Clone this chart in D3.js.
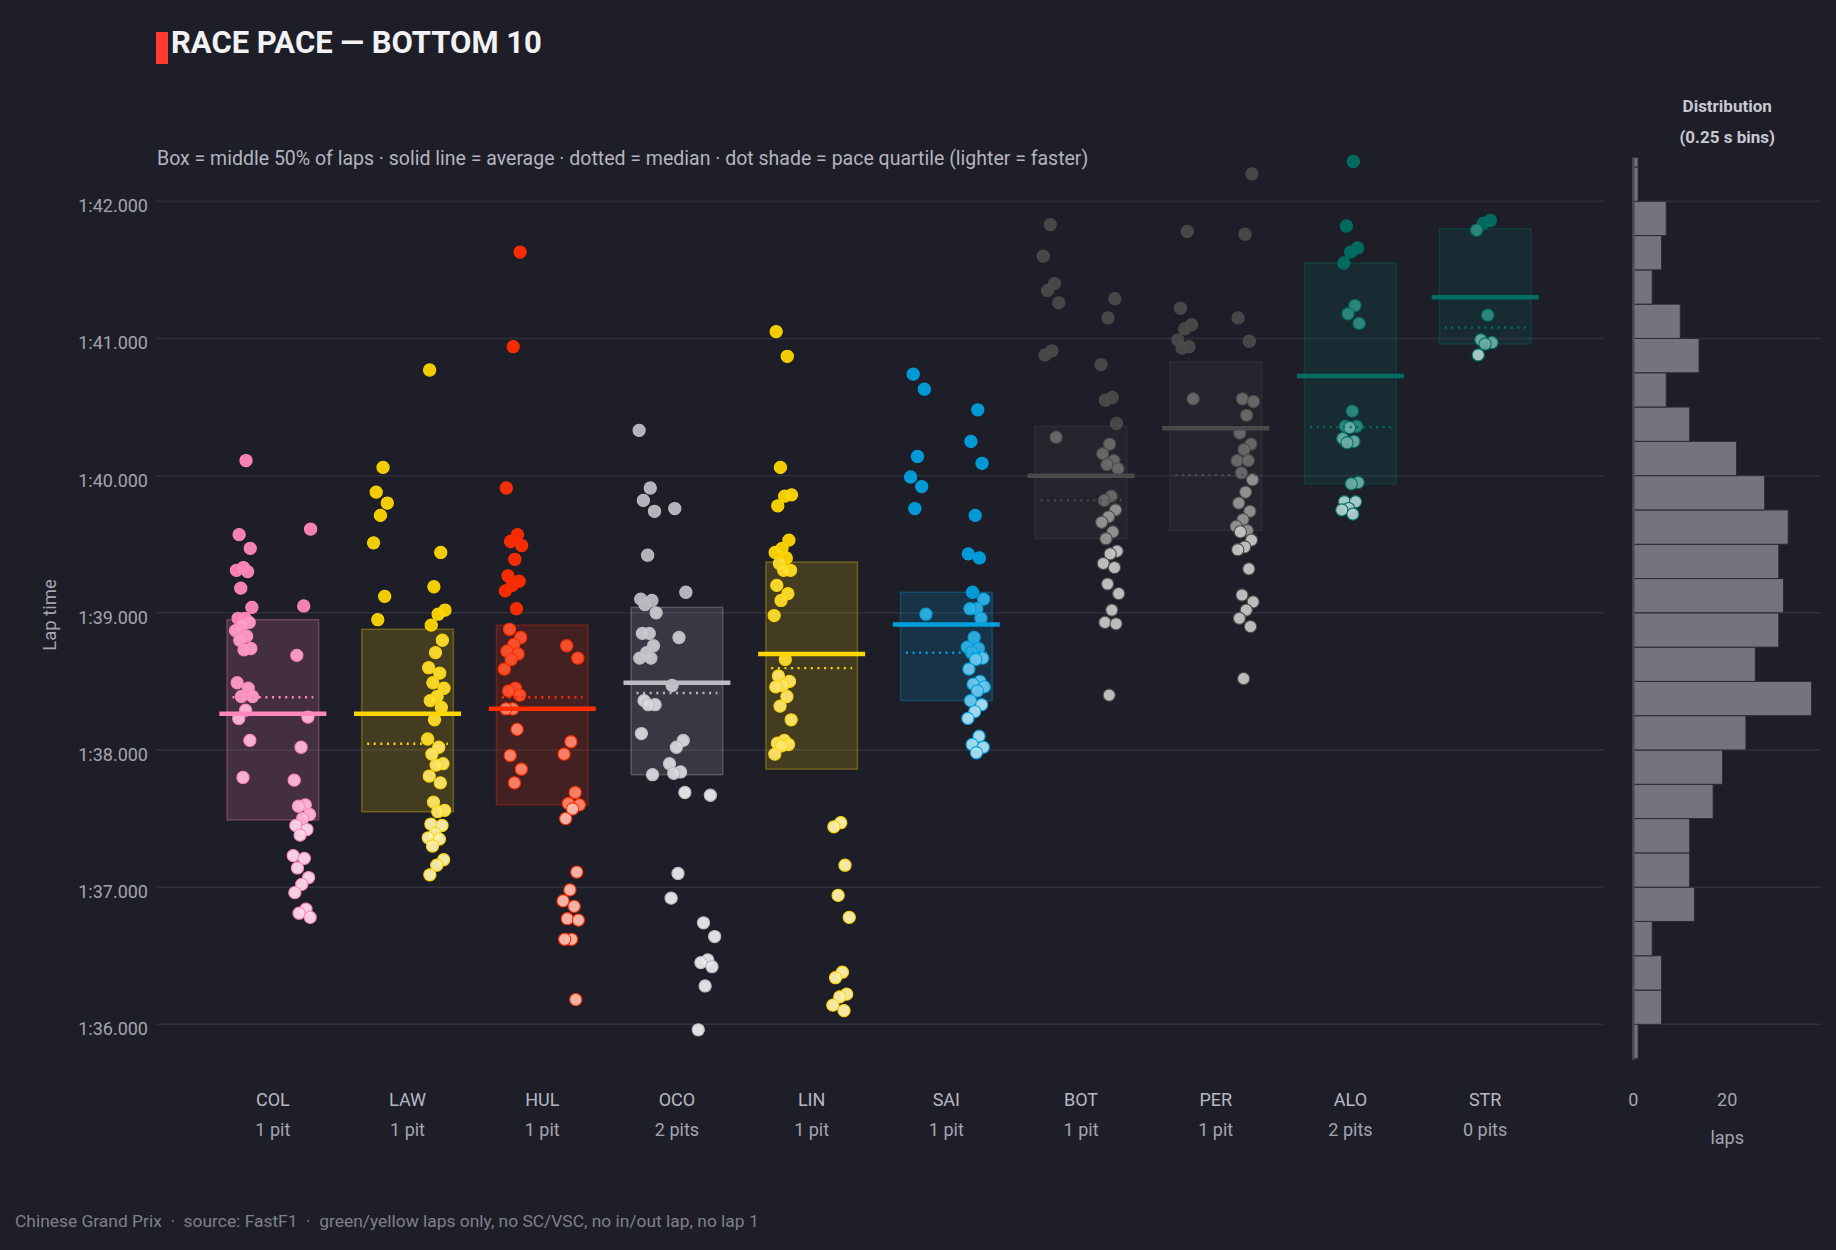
<!DOCTYPE html>
<html><head><meta charset="utf-8">
<script src="https://cdn.jsdelivr.net/npm/d3@7"></script>
<style>
html,body{margin:0;padding:0;background:#1e1e28;}
svg{display:block;}
text{font-family:Roboto,"Noto Sans",sans-serif;}
</style></head><body>
<svg id="chart" width="1836" height="1250"></svg>
<script>
// ---------- data ----------
const drivers   = ["COL","LAW","HUL","OCO","LIN","SAI","BOT","PER","ALO","STR"];
const pitStops  = [1,1,1,2,1,1,1,1,2,0];
const boxQ1     = [97.49, 97.55, 97.60, 97.82, 97.86, 98.36, 99.54, 99.60, 99.94, 100.96];
const boxQ3     = [98.95, 98.88, 98.91, 99.04, 99.37, 99.15, 100.36, 100.83, 101.55, 101.80];
const lapMean   = [98.265, 98.264, 98.30, 98.49, 98.70, 98.915, 100.0, 100.345, 100.727, 101.30];
const lapMedian = [98.385, 98.045, 98.385, 98.415, 98.597, 98.709, 99.82, 100.005, 100.354, 101.08];

// lap times (s) per stint
const lapsCOL = [
  [100.11,99.57,99.47,99.33,99.31,99.30,99.18,99.04,98.96,98.96,98.93,98.91,98.87,98.83,98.80,98.74,98.73,98.49,98.45,98.39,98.39,98.29,98.23,98.07,97.80],
  [99.61,99.05,98.69,98.24,98.02,97.78,97.60,97.59,97.53,97.50,97.45,97.42,97.38,97.23,97.21,97.14,97.07,97.02,96.96,96.84,96.81,96.78]
];
const lapsLAW = [
  [100.06,99.88,99.80,99.71,99.51,99.12,98.95],
  [100.77,99.44,99.19,99.02,98.99,98.91,98.80,98.71,98.60,98.56,98.49,98.45,98.39,98.36,98.31,98.22,98.08,98.02,97.97,97.90,97.89,97.81,97.76,97.62,97.56,97.55,97.46,97.45,97.39,97.36,97.35,97.30,97.20,97.16,97.09]
];
const lapsHUL = [
  [101.63,100.94,99.91,99.57,99.52,99.49,99.39,99.27,99.23,99.20,99.16,99.03,98.88,98.82,98.77,98.72,98.70,98.66,98.59,98.45,98.43,98.40,98.30,98.30,98.15,97.96,97.86,97.76],
  [98.76,98.67,98.06,97.97,97.69,97.61,97.60,97.57,97.50,97.11,96.98,96.90,96.86,96.77,96.76,96.62,96.62,96.18]
];
const lapsOCO = [
  [100.33,99.91,99.82,99.74,99.42,99.10,99.09,99.06,99.00,98.85,98.85,98.76,98.71,98.67,98.67,98.36,98.33,98.33,98.12,97.82],
  [99.76,99.15,98.82,98.47,98.07,98.02,97.90,97.84,97.83,97.69,97.10,96.92],
  [97.67,96.74,96.64,96.47,96.45,96.42,96.28,95.96]
];
const lapsLIN = [
  [101.05,100.87,100.06,99.86,99.85,99.78,99.53,99.47,99.44,99.40,99.36,99.31,99.31,99.20,99.14,99.09,98.98,98.66,98.54,98.50,98.47,98.46,98.39,98.32,98.22,98.07,98.05,98.04,98.03,97.97],
  [97.47,97.44,97.16,96.94,96.78,96.38,96.34,96.22,96.20,96.14,96.10]
];
const lapsSAI = [
  [100.74,100.63,100.14,99.99,99.92,99.76,98.99],
  [100.48,100.25,100.09,99.71,99.43,99.40,99.15,99.10,99.03,99.03,98.96,98.82,98.75,98.74,98.71,98.67,98.66,98.59,98.50,98.48,98.46,98.43,98.36,98.33,98.28,98.23,98.10,98.04,98.02,97.98]
];
const lapsBOT = [
  [101.83,101.60,101.40,101.35,101.26,100.91,100.88,100.28],
  [101.29,101.15,100.81,100.57,100.55,100.38,100.23,100.16,100.11,100.08,100.05,99.85,99.82,99.75,99.70,99.66,99.59,99.54,99.45,99.43,99.36,99.33,99.21,99.14,99.02,98.93,98.92,98.40]
];
const lapsPER = [
  [101.78,101.22,101.10,101.07,100.99,100.94,100.93,100.56],
  [102.20,101.76,101.15,100.98,100.56,100.54,100.44,100.31,100.23,100.19,100.11,100.11,100.02,99.97,99.88,99.80,99.74,99.68,99.63,99.60,99.59,99.53,99.48,99.46,99.32,99.13,99.08,99.02,98.96,98.90,98.52]
];
const lapsALO = [
  [102.29,101.82,101.66,101.63,101.55,101.24,101.18,101.11,100.47,100.36,100.36,100.35,100.27,100.25,100.24,99.95,99.94,99.81,99.81,99.76,99.75,99.72]
];
const lapsSTR = [
  [101.86,101.84,101.79,101.17,100.99,100.97,100.96,100.88]
];

// distribution of all laps, 0.25 s bins starting at 95.75 s (bottom -> top)
const histStart  = 95.75;
const histWidth  = 0.25;
const histCounts = [1,6,6,4,13,12,12,17,19,24,38,26,31,32,31,33,28,22,12,7,14,10,4,6,7,1,1];

const yTicks    = [96,97,98,99,100,101,102];
const histTicks = [0,20];

// ---------- styles ----------
const teamColors = ["#ff87bc","#fdd600","#ff2d00","#bcbcc2","#fdd600","#00a0de","#4a4a4a","#4a4a4a","#006f62","#006f62"];
const allLaps = [lapsCOL,lapsLAW,lapsHUL,lapsOCO,lapsLIN,lapsSAI,lapsBOT,lapsPER,lapsALO,lapsSTR];

const svg = d3.select("#chart");
svg.append("rect").attr("width",1836).attr("height",1250).attr("fill","#1e1e28");

const x = d3.scalePoint().domain(drivers).range([157,1601]).padding(0.86);
const y = d3.scaleLinear().domain([95.74,102.32]).range([1060,157.4]);
const xh = d3.scaleLinear().domain([0,40]).range([1633.4,1821]);
const step = x.step();

const fmt = v => { const m = Math.floor(v/60); const s = v - m*60; return m + ":" + (s<10?"0":"") + s.toFixed(3); };

// title
svg.append("rect").attr("x",156).attr("y",32).attr("width",12).attr("height",32).attr("fill","#ff3b2f");
svg.append("text").attr("x",171).attr("y",53).attr("fill","#f2f2f5")
  .attr("font-size",31).attr("font-weight",700).text("RACE PACE — BOTTOM 10");
svg.append("text").attr("x",157).attr("y",165).attr("fill","#b4b4c0").attr("font-size",19.5)
  .text("Box = middle 50% of laps · solid line = average · dotted = median · dot shade = pace quartile (lighter = faster)");

// gridlines
const grid = svg.append("g");
grid.selectAll("line.main").data(yTicks).join("line").attr("class","main")
  .attr("x1",157).attr("x2",1603).attr("y1",d=>y(d)).attr("y2",d=>y(d))
  .attr("stroke","#30303c").attr("stroke-width",1.5);
grid.selectAll("line.hist").data(yTicks).join("line").attr("class","hist")
  .attr("x1",xh(0)).attr("x2",xh.range()[1]).attr("y1",d=>y(d)).attr("y2",d=>y(d))
  .attr("stroke","#30303c").attr("stroke-width",1.5);

// y tick labels
svg.append("g").selectAll("text").data(yTicks).join("text")
  .attr("x",148).attr("y",d=>y(d)+11).attr("text-anchor","end")
  .attr("fill","#a4a4b0").attr("font-size",18).text(d=>fmt(d));
svg.append("text").attr("transform","translate(56,615) rotate(-90)").attr("text-anchor","middle")
  .attr("fill","#a4a4b0").attr("font-size",18.5).text("Lap time");

// boxes
const boxHalf = 0.34*step, meanHalf = 0.397*step, medHalf = 0.30*step;
const gBox = svg.append("g");
drivers.forEach((d,i)=>{
  const cx = x(d);
  gBox.append("rect").attr("x",cx-boxHalf).attr("width",2*boxHalf)
    .attr("y",y(boxQ3[i])).attr("height",y(boxQ1[i])-y(boxQ3[i]))
    .attr("fill",teamColors[i]).attr("fill-opacity",0.17)
    .attr("stroke",teamColors[i]).attr("stroke-opacity",0.3).attr("stroke-width",1.5);
});

// dots
const shadeT = [0.68,0.42,0.18,0];
const gDots = svg.append("g");
allLaps.forEach((stints,i)=>{
  const cx = x(drivers[i]);
  const n = stints.length;
  const base = teamColors[i];
  stints.forEach((laps,k)=>{
    const lane = n===1 ? 0 : (-0.215 + 0.43*k/(n-1))*step;
    gDots.selectAll(null).data(laps).join("circle")
      .attr("cx",(v,j)=> cx + lane + ((((j+1)*0.6180339887 + k*0.37 + i*0.13) % 1) - 0.5)*18)
      .attr("cy",v=>y(v))
      .attr("r",6.1)
      .attr("fill",v=>{
        const q = v < boxQ1[i] ? 0 : v < lapMedian[i] ? 1 : v < boxQ3[i] ? 2 : 3;
        return d3.interpolateRgb(base,"#ffffff")(shadeT[q]);
      })
      .attr("fill-opacity",0.95)
      .attr("stroke",base).attr("stroke-width",1.1);
  });
});

// median + mean lines
const gLines = svg.append("g");
drivers.forEach((d,i)=>{
  const cx = x(d);
  gLines.append("line").attr("x1",cx-medHalf).attr("x2",cx+medHalf)
    .attr("y1",y(lapMedian[i])).attr("y2",y(lapMedian[i]))
    .attr("stroke",teamColors[i]).attr("stroke-width",2.4).attr("stroke-dasharray","2,4.6");
  gLines.append("line").attr("x1",cx-meanHalf).attr("x2",cx+meanHalf)
    .attr("y1",y(lapMean[i])).attr("y2",y(lapMean[i]))
    .attr("stroke",teamColors[i]).attr("stroke-width",4.5);
});

// x labels
const gX = svg.append("g");
gX.selectAll("text.code").data(drivers).join("text").attr("class","code")
  .attr("x",d=>x(d)).attr("y",1106).attr("text-anchor","middle")
  .attr("fill","#b8b8c4").attr("font-size",18).text(d=>d);
gX.selectAll("text.pit").data(pitStops).join("text").attr("class","pit")
  .attr("x",(p,i)=>x(drivers[i])).attr("y",1136).attr("text-anchor","middle")
  .attr("fill","#a4a4b0").attr("font-size",18).text(p=> p===1 ? "1 pit" : p + " pits");

// histogram
const yTop = y.domain()[1];
const gH = svg.append("g");
gH.selectAll("rect").data(histCounts).join("rect")
  .attr("x",xh(0))
  .attr("y",(c,k)=> y(Math.min(histStart+(k+1)*histWidth, yTop)))
  .attr("height",(c,k)=> y(histStart+k*histWidth) - y(Math.min(histStart+(k+1)*histWidth, yTop)))
  .attr("width",c=> xh(c)-xh(0))
  .attr("fill","#74747f").attr("stroke","#2a2a35").attr("stroke-width",1);
svg.append("line").attr("x1",xh(0)).attr("x2",xh(0)).attr("y1",y.range()[1]).attr("y2",y.range()[0])
  .attr("stroke","#4c4c58").attr("stroke-width",2.5);
svg.append("g").selectAll("text").data(histTicks).join("text")
  .attr("x",d=>xh(d)).attr("y",1106).attr("text-anchor","middle")
  .attr("fill","#a4a4b0").attr("font-size",18).text(d=>d);
svg.append("text").attr("x",xh(20)).attr("y",1144).attr("text-anchor","middle")
  .attr("fill","#a4a4b0").attr("font-size",18).text("laps");
svg.append("text").attr("x",xh(20)).attr("y",112).attr("text-anchor","middle")
  .attr("fill","#c8c8d2").attr("font-size",17).attr("font-weight",700).text("Distribution");
svg.append("text").attr("x",xh(20)).attr("y",143).attr("text-anchor","middle")
  .attr("fill","#c8c8d2").attr("font-size",17).attr("font-weight",700).text("(0.25 s bins)");

// footer
svg.append("text").attr("x",15).attr("y",1227).attr("fill","#80808c").attr("font-size",17.4)
  .style("white-space","pre")
  .text("Chinese Grand Prix  ·  source: FastF1  ·  green/yellow laps only, no SC/VSC, no in/out lap, no lap 1");
</script>
</body></html>
